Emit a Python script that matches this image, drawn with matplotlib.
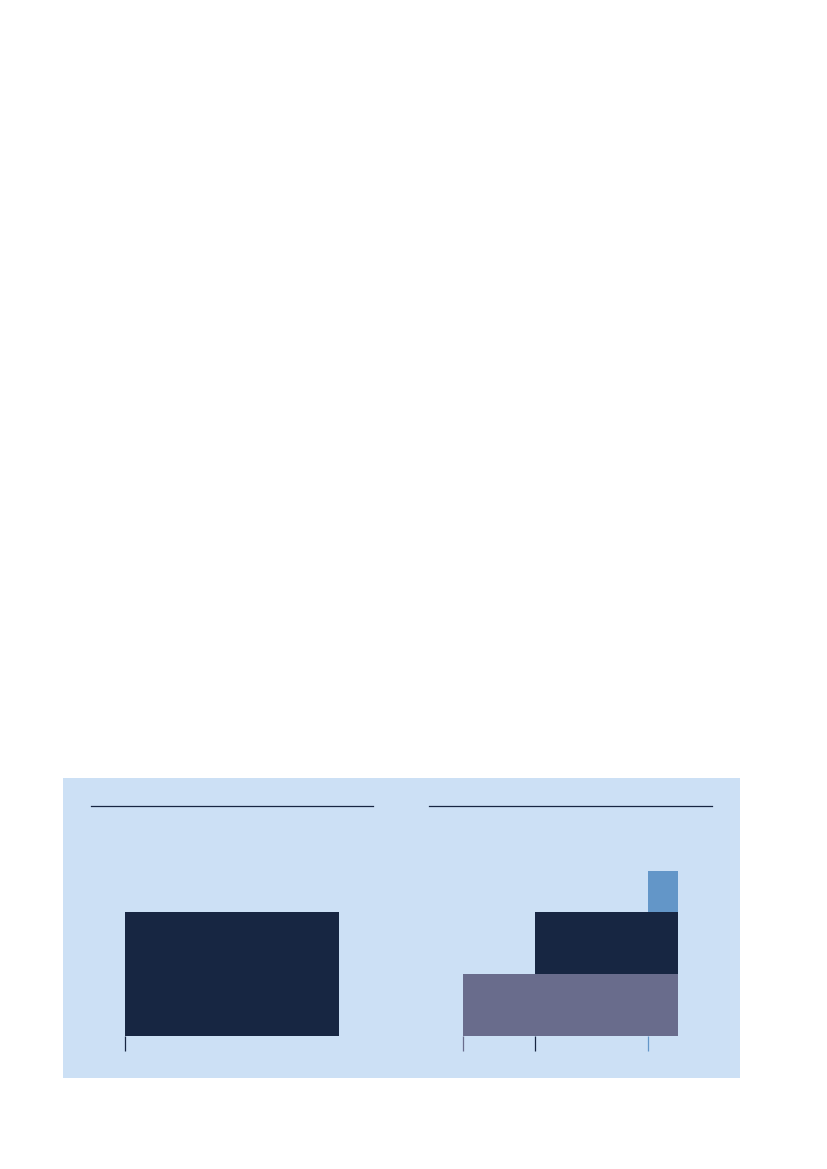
import matplotlib
matplotlib.use("Agg")
import matplotlib.pyplot as plt
from matplotlib.patches import Rectangle

# ---- data ----
left_starts = [1.2]
left_heights = [2.0]
left_bottoms = [0.0]
left_colors = ["#172642"]

right_starts = [1.2, 3.74, 7.76]
right_heights = [1.0, 1.0, 0.66]
right_bottoms = [0.0, 1.0, 2.0]
right_colors = ["#696c8c", "#172642", "#6396c8"]

bar_end = 8.8
x_max = 10.0
y_max = 3.72

BG = "#cce0f5"
NAVY = "#172642"

W, H = 827, 1169
fig = plt.figure(figsize=(W / 100, H / 100), dpi=100)
fig.patch.set_facecolor("white")

# light blue panel
fig.add_artist(Rectangle((63 / W, 1 - 1078 / H), 677 / W, 300 / H,
                         transform=fig.transFigure, facecolor=BG,
                         edgecolor="none", zorder=0))


def make_panel(x0_px, starts, heights, bottoms, colors):
    ax = fig.add_axes([x0_px / W, 1 - 1035.7 / H, 282.3 / W, 229.7 / H])
    ax.set_facecolor("none")
    widths = [bar_end - s for s in starts]
    ax.bar(starts, heights, width=widths, bottom=bottoms, align="edge",
           color=colors, edgecolor="none", linewidth=0)
    ax.set_xlim(0, x_max)
    ax.set_ylim(0, y_max)
    for s in ["left", "right", "bottom"]:
        ax.spines[s].set_visible(False)
    ax.spines["top"].set_color(NAVY)
    ax.spines["top"].set_linewidth(0.9)
    ax.set_yticks([])
    ax.set_xticks(starts)
    ax.set_xticklabels([""] * len(starts))
    ax.tick_params(axis="x", direction="out", length=10.5, width=0.9)
    for tick, c in zip(ax.xaxis.get_major_ticks(), colors):
        tick.tick1line.set_markeredgecolor(c)
    return ax


make_panel(91, left_starts, left_heights, left_bottoms, left_colors)
make_panel(429.3, right_starts, right_heights, right_bottoms, right_colors)

fig.savefig("out.png", dpi=100)
